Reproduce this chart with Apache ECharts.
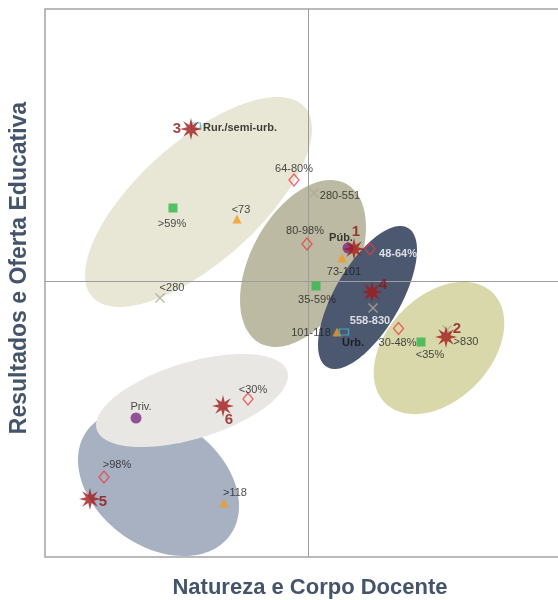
<!DOCTYPE html>
<html>
<head>
<meta charset="utf-8">
<script src="https://cdn.jsdelivr.net/npm/echarts@6/dist/echarts.min.js"></script>
<style>
  html, body { margin: 0; padding: 0; background: #fff; }
  #chart { width: 558px; height: 600px; }
</style>
</head>
<body>
<div id="chart"></div>
<script>
// ellipses: centre, half axes, tilt (degrees)
const ellipseCenters = [[-1.095, 0.79], [-0.05, 0.175], [1.31, -0.67], [0.595, -0.165], [-1.495, -2.02], [-1.16, -1.195]];
const ellipseAxes = [[1.424, 0.601], [0.906, 0.522], [0.77, 0.52], [0.805, 0.329], [0.886, 0.63], [0.996, 0.381]];
const ellipseAngles = [41.8, 61.6, 46, 59.8, -36.4, 16.9];

// row points (stars)
const starNames = ['1', '2', '3', '4', '5', '6'];
const starX = [0.46, 1.38, -1.17, 0.64, -2.18, -0.85];
const starY = [0.32, -0.56, 1.52, -0.11, -2.18, -1.25];

// column categories
const diamondNames = ['64-80%', '80-98%', '48-64%', '30-48%', '<30%', '>98%'];
const diamondX = [-0.14, -0.01, 0.62, 0.905, -0.60, -2.04];
const diamondY = [1.01, 0.37, 0.32, -0.475, -1.18, -1.96];

const squareNames = ['>59%', '35-59%', '<35%'];
const squareX = [-1.35, 0.08, 1.13];
const squareY = [0.73, -0.05, -0.61];

const triangleNames = ['<73', '73-101', '101-118', '>118'];
const triangleX = [-0.71, 0.34, 0.29, -0.84];
const triangleY = [0.62, 0.23, -0.51, -2.22];

const crossNames = ['<280', '280-551', '558-830', '>830'];
const crossX = [-1.48, 0.06, 0.65, 1.39];
const crossY = [-0.17, 0.88, -0.27, -0.49];

const circleNames = ['Púb.', 'Priv.'];
const circleX = [0.40, -1.72];
const circleY = [0.33, -1.37];

const rectNames = ['Rur./semi-urb.', 'Urb.'];
const rectX = [-1.12, 0.36];
const rectY = [1.55, -0.51];

// styling
const ellipseColors = ['#e8e6d4', '#bcbaa2', '#d9d8aa', '#4b5870', '#a7b1c1', '#e9e7e3'];
const labelShift = {
  '1': [2, -17], '2': [11, -8], '3': [-14, 0], '4': [11, -7], '5': [13, 3], '6': [6, 14],
  '64-80%': [0, -11], '80-98%': [-2, -13], '48-64%': [28, 5], '30-48%': [-1, 14], '<30%': [5, -9], '>98%': [13, -12],
  '>59%': [-1, 16], '35-59%': [1, 14], '<35%': [9, 13],
  '<73': [4, -9], '73-101': [2, 14], '101-118': [-26, 1], '>118': [11, -10],
  '<280': [12, -10], '280-551': [26, 3], '558-830': [-3, 13], '>830': [19, 12],
  'Púb.': [-7, -10], 'Priv.': [5, -11],
  'Rur./semi-urb.': [44, 2], 'Urb.': [9, 11]
};
const whiteLabels = ['48-64%', '558-830'];
const boldLabels = ['Púb.', 'Rur./semi-urb.', 'Urb.'];
const titleFont = 'Liberation Sans, Arial, sans-serif';

function burstPath(n, r1, r2) {
  let d = '';
  for (let i = 0; i < 2 * n; i++) {
    const r = i % 2 ? r2 : r1;
    const t = i * Math.PI / n - Math.PI / 2;
    d += (i ? 'L' : 'M') + (50 + r * Math.cos(t)).toFixed(1) + ' ' + (50 + r * Math.sin(t)).toFixed(1);
  }
  return 'path://' + d + 'Z';
}
const crossPath = 'path://M0 2L2 0L10 8L18 0L20 2L12 10L20 18L18 20L10 12L2 20L0 18L8 10Z';

function points(names, xs, ys) {
  return names.map((n, i) => {
    const item = { name: n, value: [xs[i], ys[i]] };
    const lab = {
      show: true, position: 'inside', formatter: '{b}', offset: labelShift[n] || [0, 0],
      color: '#1c1c1c', fontSize: 11, fontFamily: titleFont
    };
    if (whiteLabels.includes(n)) { lab.color = '#ffffff'; lab.fontWeight = 'bold'; }
    if (boldLabels.includes(n)) { lab.fontWeight = 'bold'; lab.color = '#111'; }
    item.label = lab;
    return item;
  });
}

function markerSeries(names, xs, ys, symbol, size, itemStyle, z) {
  return {
    type: 'scatter', data: points(names, xs, ys), symbol: symbol, symbolSize: size,
    itemStyle: itemStyle, z: z, silent: true
  };
}

const chart = echarts.init(document.getElementById('chart'));

const ellipseData = ellipseCenters.map((c, i) => [c[0], c[1], ellipseAxes[i][0], ellipseAxes[i][1], ellipseAngles[i]]);

const option = {
  animation: false,
  backgroundColor: '#ffffff',
  grid: {
    left: 45, top: 9, right: -2, bottom: 43, outerBoundsMode: 'none', containLabel: false,
    show: true, borderColor: '#a3a3a3', borderWidth: 1.5, backgroundColor: 'transparent'
  },
  xAxis: {
    type: 'value', min: -2.63, max: 2.52,
    axisLine: { show: false }, axisTick: { show: false }, axisLabel: { show: false }, splitLine: { show: false }
  },
  yAxis: {
    type: 'value', min: -2.76, max: 2.72,
    axisLine: { show: false }, axisTick: { show: false }, axisLabel: { show: false }, splitLine: { show: false }
  },
  graphic: [
    {
      type: 'text', x: 310, y: 588, silent: true,
      style: { text: 'Natureza e Corpo Docente', font: 'bold 22px ' + titleFont, fill: '#44546a', align: 'center', verticalAlign: 'middle' }
    },
    {
      type: 'text', x: 20, y: 268, rotation: Math.PI / 2, silent: true,
      style: { text: 'Resultados e Oferta Educativa', font: 'bold 23px ' + titleFont, fill: '#44546a', align: 'center', verticalAlign: 'middle' }
    }
  ],
  series: [
    {
      type: 'custom', clip: true, silent: true, z: 1,
      data: ellipseData,
      renderItem: function (params, api) {
        const cx = api.value(0), cy = api.value(1), a = api.value(2), b = api.value(3);
        const ang = api.value(4) * Math.PI / 180;
        const pts = [];
        for (let k = 0; k < 120; k++) {
          const t = k / 120 * Math.PI * 2;
          const ux = a * Math.cos(t), uy = b * Math.sin(t);
          pts.push(api.coord([cx + ux * Math.cos(ang) - uy * Math.sin(ang), cy + ux * Math.sin(ang) + uy * Math.cos(ang)]));
        }
        return { type: 'polygon', shape: { points: pts }, style: { fill: ellipseColors[params.dataIndex] } };
      }
    },
    {
      type: 'scatter', data: [], z: 2, silent: true,
      markLine: {
        silent: true, symbol: 'none', label: { show: false },
        lineStyle: { color: '#9c9c9c', width: 1, type: 'solid' },
        data: [{ xAxis: 0 }, { yAxis: 0 }]
      }
    },
    markerSeries(diamondNames, diamondX, diamondY, 'diamond', [10, 12], { color: 'rgba(0,0,0,0)', borderColor: '#ee3c42', borderWidth: 1.3 }, 5),
    markerSeries(squareNames, squareX, squareY, 'rect', 9, { color: '#2fb64a' }, 5),
    markerSeries(triangleNames, triangleX, triangleY, 'triangle', 9, { color: '#f39a1f' }, 5),
    markerSeries(crossNames, crossX, crossY, crossPath, 10, { color: '#aea995' }, 5),
    markerSeries(circleNames, circleX, circleY, 'circle', 11, { color: '#7c2a82' }, 5),
    markerSeries(rectNames, rectX, rectY, 'rect', [9, 6], { color: 'rgba(0,0,0,0)', borderColor: '#3cb8cc', borderWidth: 1.2 }, 6),
    {
      type: 'scatter', z: 7, silent: true,
      data: starNames.map((n, i) => ({ name: n, value: [starX[i], starY[i]] })),
      symbol: burstPath(8, 50, 20), symbolSize: 22,
      itemStyle: { color: '#a11a1a' },
      label: {
        show: true, position: 'inside', formatter: '{b}', fontSize: 15, fontWeight: 'bold', color: '#8c1414',
        fontFamily: titleFont
      },
      labelLayout: function (p) {
        const s = labelShift[starNames[p.dataIndex]];
        return { dx: s[0], dy: s[1] };
      }
    }
  ]
};
chart.setOption(option);
</script>
</body>
</html>
